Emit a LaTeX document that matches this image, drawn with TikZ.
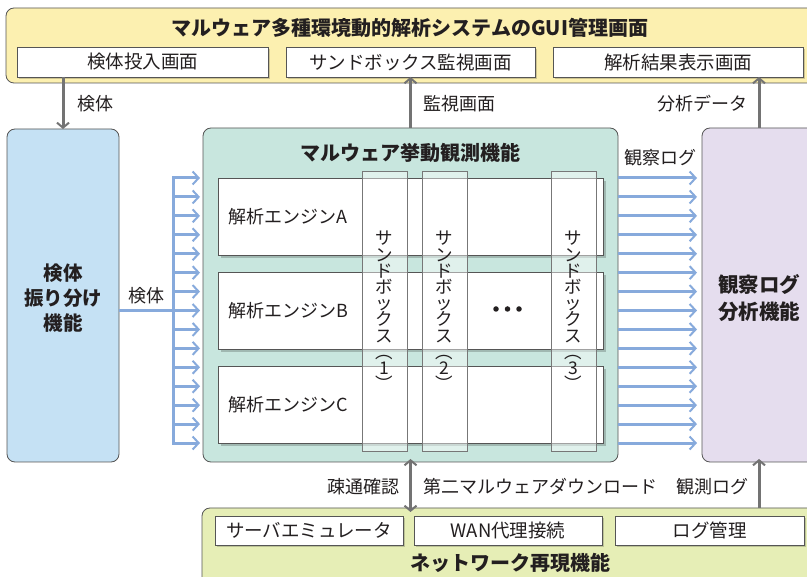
\documentclass[tikz,border=0pt]{standalone}
\usepackage{fontspec}
\setmainfont{Noto Sans CJK JP}
\usetikzlibrary{arrows.meta,shadows}
\definecolor{gline}{HTML}{737373}
\definecolor{bordc}{HTML}{555555}
\definecolor{txt}{HTML}{231F20}
\definecolor{topyel}{RGB}{252,240,176}
\definecolor{sortblue}{RGB}{197,225,244}
\definecolor{obsgreen}{RGB}{200,230,222}
\definecolor{anapurp}{RGB}{229,221,238}
\definecolor{netgreen}{RGB}{230,238,182}
\definecolor{barc}{RGB}{135,170,220}
\begin{document}
\begin{tikzpicture}[x=1pt,y=-1pt,
  every node/.style={inner sep=0pt,outer sep=0pt},
  outerbox/.style={draw=bordc,line width=0.8pt,rounded corners=8pt},
  subbox/.style={draw=bordc,fill=white,line width=0.7pt,
    drop shadow={shadow xshift=2pt,shadow yshift=-2pt,fill=black,opacity=0.18},
    font=\fontsize{18.5pt}{20pt}\selectfont,text=txt},
  engbox/.style={draw=bordc,fill=white,line width=0.7pt,minimum width=385pt,minimum height=77pt,
    drop shadow={shadow xshift=3pt,shadow yshift=-3pt,fill=black,opacity=0.2}},
  sbox/.style={draw=bordc!80,fill=white,fill opacity=0.45,line width=0.7pt,minimum width=45pt,minimum height=280pt},
  vtext/.style={align=center,font=\fontsize{17.5pt}{16.2pt}\selectfont,text=txt},
  ttl/.style={font=\bfseries\fontsize{20pt}{26pt}\selectfont,text=txt,align=center},
  lbl/.style={font=\fontsize{18pt}{20pt}\selectfont,text=txt},
  garrow/.style={draw=gline,line width=3pt,-{Straight Barb[length=5pt,width=12pt,line width=2pt]}},
  gdarrow/.style={draw=gline,line width=3pt,{Straight Barb[length=5pt,width=12pt,line width=2pt]}-{Straight Barb[length=5pt,width=12pt,line width=2pt]}},
  bline/.style={draw=barc,line width=3pt},
  barrow/.style={draw=barc,line width=3pt,-{Straight Barb[length=6pt,width=13pt,line width=2pt]}}
]
\clip (0,0) rectangle (807,577);
\fill[white] (0,0) rectangle (807,577);

% top GUI box
\node[outerbox,fill=topyel,minimum width=809pt,minimum height=75pt] (gui) at (410.5,45.5) {};
\node[ttl] (guit) at (410,28) {マルウェア多種環境動的解析システムのGUI管理画面};
\node[subbox,minimum width=251pt,minimum height=30pt] (in1) at (142.5,62) {検体投入画面};
\node[subbox,minimum width=249pt,minimum height=30pt] (mon) at (410.5,62) {サンドボックス監視画面};
\node[subbox,minimum width=250pt,minimum height=30pt] (res) at (678,62) {解析結果表示画面};

% main boxes
\node[outerbox,fill=sortblue,minimum width=112pt,minimum height=333pt] (sort) at (63,295.5) {};
\node[ttl,font=\bfseries\fontsize{19.5pt}{25pt}\selectfont] (sortt) at (63,298) {検体\\振り分け\\機能};
\node[outerbox,fill=obsgreen,minimum width=415pt,minimum height=334pt] (obs) at (410.5,295) {};
\node[ttl] (obst) at (410,153) {マルウェア挙動観測機能};
\node[outerbox,fill=anapurp,minimum width=114pt,minimum height=334pt] (ana) at (759,295) {};
\node[ttl,font=\bfseries\fontsize{20.5pt}{27pt}\selectfont] (anat) at (759,298) {観察ログ\\分析機能};

% engines
\node[engbox] (engA) at (410.5,216.5) {};
\node[engbox] (engB) at (410.5,311) {};
\node[engbox] (engC) at (410.5,405) {};
\node[lbl,anchor=west] (tA) at ([xshift=10pt]engA.west) {解析エンジンA};
\node[lbl,anchor=west] (tB) at ([xshift=10pt]engB.west) {解析エンジンB};
\node[lbl,anchor=west] (tC) at ([xshift=10pt]engC.west) {解析エンジンC};

% sandboxes
\node[sbox] (sb1) at (384.5,311) {};
\node[sbox] (sb2) at (444.5,311) {};
\node[sbox] (sb3) at (573.5,311) {};
\node[vtext] (sbt1) at (384.5,311) {サ\\ン\\ド\\ボ\\ッ\\ク\\ス\\︵\\1\\︶};
\node[vtext] (sbt2) at (444.5,311) {サ\\ン\\ド\\ボ\\ッ\\ク\\ス\\︵\\2\\︶};
\node[vtext] (sbt3) at (573.5,311) {サ\\ン\\ド\\ボ\\ッ\\ク\\ス\\︵\\3\\︶};
\foreach \n/\xx in {d1/496,d2/507.5,d3/519}
  \node[circle,fill=txt,minimum size=5.5pt] (\n) at (\xx,309) {};

% bottom network box
\node[outerbox,fill=netgreen,minimum width=614pt,minimum height=82pt] (net) at (509,549) {};
\node[ttl] (nett) at (510,563) {ネットワーク再現機能};
\node[subbox,minimum width=188pt,minimum height=29pt] (sv) at (309,530.5) {サーバエミュレータ};
\node[subbox,minimum width=188pt,minimum height=29pt] (wan) at (508,530.5) {WAN代理接続};
\node[subbox,minimum width=189pt,minimum height=29pt] (lg) at (709.5,530.5) {ログ管理};

% gray arrows
\draw[garrow] (sort.north |- in1.south) -- (sort.north);
\draw[garrow] (obs.north) -- (obs.north |- mon.south);
\draw[garrow] (ana.north) -- (ana.north |- res.south);
\draw[gdarrow] ([yshift=3pt]obs.south) -- ([yshift=-4pt]obs.south |- net.north);
\draw[garrow] (ana.south |- net.north) -- ([yshift=3pt]ana.south);

\node[lbl,anchor=west] (l1) at (77,104) {検体};
\node[lbl,anchor=west] (l2) at (423,104) {監視画面};
\node[lbl,anchor=east] (l3) at (747,104) {分析データ};
\node[lbl,anchor=east] (l4) at (399,487) {疎通確認};
\node[lbl,anchor=west] (l5) at (423,487) {第二マルウェアダウンロード};
\node[lbl,anchor=east] (l6) at (748,487) {観測ログ};
\node[lbl] (l7) at (146,296) {検体};
\node[lbl] (l8) at (660,158) {観察ログ};

% blue arrows
\foreach \i in {0,...,14}{
  \pgfmathsetmacro\yy{178+\i*18.93}
  \coordinate (la\i) at (173,\yy);
  \coordinate (lb\i) at (200,\yy);
  \coordinate (ra\i) at (618,\yy);
  \coordinate (rb\i) at (697,\yy);
  \draw[barrow] (la\i) -- (lb\i);
  \draw[barrow] (ra\i) -- (rb\i);
}
\draw[bline,line cap=rect] (la0) -- (la14);
\draw[bline] (sort.east |- la7) -- (la7);
\end{tikzpicture}
\end{document}
